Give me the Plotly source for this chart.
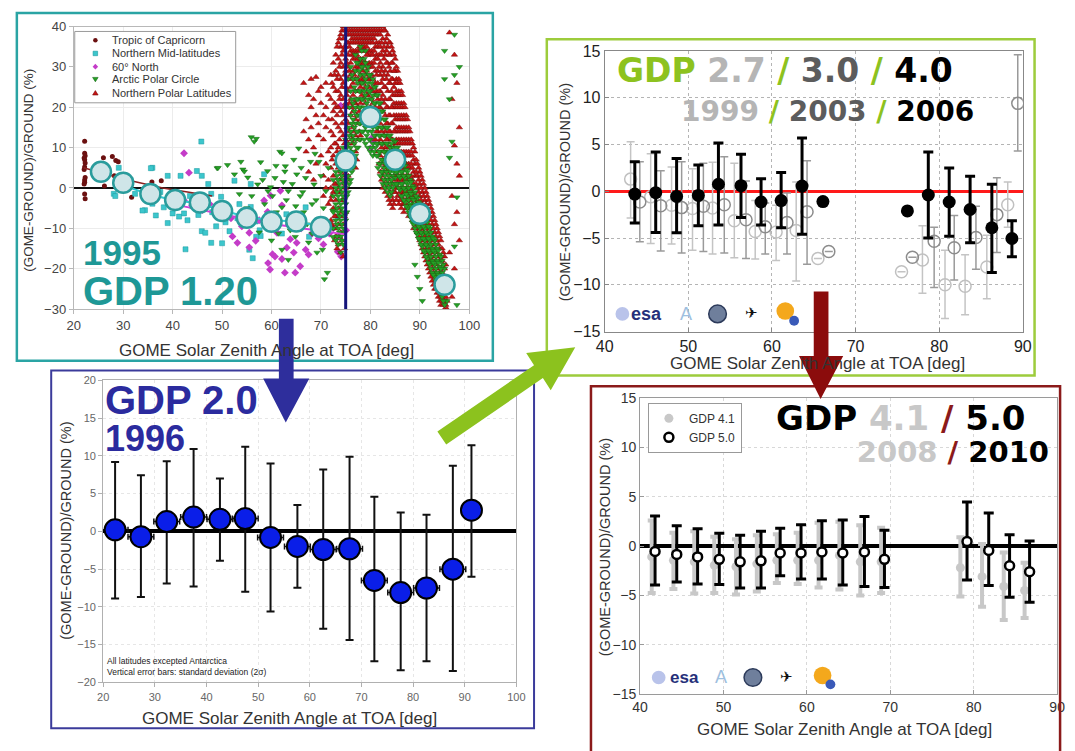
import plotly.graph_objects as go

W, H = 1075, 751


def px(x):
    return x / W


def py(y):
    return 1 - y / H


# ====================== Panel A : GDP 1.20 (1995) ======================
tl_mean_x = [25.5, 30, 35.5, 40.5, 45.5, 50, 55, 60, 65, 70, 75, 80, 85, 90, 95]
tl_mean_y = [4.0, 1.3, -1.5, -3.0, -3.6, -5.7, -7.4, -8.4, -8.3, -9.7, 6.8, 17.6, 7.0, -6.4, -24.0]

cap_pts = [(22.2, 11.6), (22.2, 8.6), (22.3, 8.0), (22.1, 7.4), (22.2, 7.0), (22.3, 6.2), (22.2, 5.2),
           (22.1, 4.6), (22.3, 2.6), (22.2, 2.0), (22.2, 1.4), (22.1, 1.0), (22.2, -1.5), (22.3, -2.7),
           (26.0, 7.5), (27.8, 7.8), (28.5, 6.8), (28.2, 3.0), (26.2, 0.5), (29.0, 6.5), (31.7, -2.3),
           (35.8, 1.5), (37.7, 1.8), (47.2, -3.5)]
cap_fit_x = [22, 30, 38, 48]
cap_fit_y = [5.0, 2.2, 0.0, -2.0]

mid_pts = [(29.1, 5.0), (28.1, -1.45), (32.4, -1.45), (35.9, 5.0), (35.9, -3.9), (34.4, -5.5), (39.0, 3.0),
           (39.0, -8.7), (40.7, -3.9), (41.3, -7.1), (42.3, -6.3), (41.6, 3.0), (39.3, -3.1), (40.0, -6.3),
           (42.6, -15.2), (44.9, 4.2), (45.9, 3.0), (45.2, -6.7), (47.2, 1.0), (47.8, -1.45), (45.9, -10.7),
           (46.6, -11.1), (47.8, -13.6), (48.8, -9.5), (49.8, -2.2), (51.1, -5.5), (51.5, -10.7), (52.5, 1.8),
           (53.1, -7.5), (54.4, -8.7), (55.8, 1.0), (55.8, -4.7), (56.8, -8.3), (57.8, -11.9), (58.5, 3.4),
           (59.8, -9.5), (45.8, 11.5), (26.7, 4.9), (28.4, -2.0), (33.9, -5.6), (36.6, -6.8), (35.6, 4.9),
           (50.7, -8.5), (50.0, -13.7), (55.5, -15.3), (56.2, -17.4), (56.9, -12.1), (57.6, -10.5),
           (61.0, -8.9), (62.1, -11.3), (66.9, -4.8), (67.6, -12.1), (69.3, -10.5), (73.4, -7.2),
           (30.5, 0.5), (31.5, 2.0), (43.5, -2.0), (44.0, -4.5), (48.0, -6.0), (53.5, -4.0), (60.5, -7.0),
           (63.0, -6.5), (64.5, -9.0), (70.5, -8.0), (37.5, -1.0), (38.2, -4.8), (43.0, -8.0), (49.0, -4.5)]
mid_fit_x = [28, 35, 40, 45, 50, 55, 60, 65, 70]
mid_fit_y = [1.5, -1.5, -3.0, -3.8, -5.5, -7.2, -8.0, -8.3, -9.5]

mag_pts = [(42.3, 8.6), (43.3, 3.8), (41.3, -1.5), (42.3, -3.1), (43.9, -4.3), (49.8, -6.3), (51.8, -7.5),
           (52.1, -12.0), (53.1, -13.6), (55.5, -11.1), (56.8, -13.1), (55.5, -14.7), (58.5, -3.1),
           (59.8, -1.9), (59.2, -5.9), (60.5, -8.7), (61.1, -11.1), (61.8, -0.7), (62.1, -4.3), (63.8, -12.7),
           (65.1, -13.6), (63.1, -14.8), (60.2, -16.4), (62.1, -17.6), (59.3, -18.6), (59.7, -20.2),
           (60.7, -17.0), (62.7, -21.0), (64.8, -21.0), (65.8, -19.4), (66.9, -15.3), (68.2, -11.3),
           (71.7, -11.3), (73.4, -12.1), (74.1, -17.0), (73.4, -15.8), (75.1, -10.5), (80.0, 9.8),
           (80.6, 11.4), (74.0, 20.4), (80.3, 12.4), (46.0, -5.5), (47.5, -4.0), (54.0, -9.5), (57.5, -8.0),
           (66.0, -10.0), (67.5, -16.5), (69.5, -12.5), (70.5, -14.0), (72.5, -10.0), (63.5, -9.0),
           (64.5, -16.0)]
mag_fit_x = [42, 50, 58, 66, 75]
mag_fit_y = [-4.5, -6.5, -8.5, -10.0, -11.5]

arc_sc_pts = [(49.0, 4.9), (49.2, 5.0), (51.1, 5.7), (52.5, 3.4), (53.8, 6.5), (54.2, 4.6), (54.5, 4.1),
              (55.2, 2.6), (55.9, 12.6), (56.5, 11.5), (56.9, 12.2), (57.2, 0.9), (57.8, 6.4), (58.6, -4.0),
              (59.2, 4.2), (59.3, -0.8), (59.8, 0.2), (60.7, 2.5), (61.4, -11.3), (61.7, 9.0), (62.1, 8.6),
              (62.1, -4.8), (62.1, -15.3), (62.7, 4.1), (62.8, 5.4), (63.4, -0.8), (63.4, -17.8), (64.5, 7.0),
              (64.8, -12.1), (65.1, 3.4), (65.5, 9.8), (66.9, 2.5), (67.9, 6.5), (68.2, -4.0), (68.2, -11.3),
              (68.6, 0.9), (69.6, 6.5), (70.3, -15.3), (70.7, -22.6), (71.3, -21.0), (71.0, -0.8),
              (72.4, -5.6), (72.4, -12.1), (60.2, -2.0), (61.0, -6.0), (63.0, -3.0), (64.0, -7.0),
              (65.8, -2.0), (66.5, -6.0), (67.2, -9.0), (69.0, -3.0), (69.8, -8.0), (70.5, -5.0),
              (71.6, -9.0), (66.0, 5.0), (64.2, 1.0), (62.4, 1.5), (60.9, 5.5), (58.2, 2.0), (56.0, -2.0),
              (55.0, -5.0), (53.5, -1.5), (61.5, -8.5), (63.8, -10.5), (67.5, -13.5), (69.2, -16.0),
              (58.9, -7.5), (57.5, -11.0), (60.0, -13.0), (70.0, 3.0), (71.5, 5.0), (68.8, 8.5),
              (66.3, -1.0), (64.9, -4.5)]

arc_cols = [
    (72.5, [2, -2, -6, -10]), (73.0, [4, 0, -4, -8, -13]), (73.5, [6, 2, -2, -6, -10, -14]),
    (74.0, [8, 4, 0, -4, -8, -12, -16]), (74.5, [10, 6, 2, -2, -6, -10, -14]), (75.0, [12, 8, 4, 0, -4, -8]),
    (75.5, [15, 11, 7, 3, -1, 27]), (76.0, [18, 14, 10, 6, 2, 30, 24]), (76.5, [21, 17, 13, 9, 5, 27]),
    (77.0, [24, 20, 16, 12, 8, 29, 33]), (77.5, [26, 22, 18, 14, 10, 31]), (78.0, [28, 24, 20, 16, 12, 32, 35]),
    (78.5, [30, 26, 22, 18, 14]), (79.0, [31, 27, 23, 19, 15, 11, 34]), (79.5, [30, 26, 22, 18, 14, 10]),
    (80.0, [28, 24, 20, 16, 12, 9]), (80.5, [27, 23, 19, 15, 11, 8]), (81.0, [25, 21, 17, 13, 10]),
    (81.5, [23, 19, 15, 11, 8, 5]), (82.0, [21, 17, 13, 9, 6, 3]), (82.5, [19, 15, 11, 7, 4, 1]),
    (83.0, [17, 13, 9, 6, 3, 0]), (83.5, [15, 11, 8, 5, 2, -1]), (84.0, [13, 10, 7, 4, 1, -2]),
    (84.5, [12, 9, 6, 3, 0]), (85.0, [11.5, 8.5, 5.5, 2.5]), (85.5, [10, 7, 4, 1]),
    (86.0, [8.5, 5.5, 2.5, -0.5]), (86.5, [7, 4, 1, -2]), (87.0, [5.5, 2.5, -0.5, -3.5]),
    (87.5, [4, 1, -2, -5]), (88.0, [2, -1, -4, -7]), (88.5, [0.5, -2.5, -5.5, -8.5]),
    (89.0, [-1, -4, -7, -10, -19]), (89.5, [-2.5, -5.5, -8.5, -11.5, -22]), (90.0, [-4, -7, -10, -13, -25]),
    (90.5, [-5.5, -8.5, -11.5, -14.5, -28]), (91.0, [-7, -10, -13, -16]), (91.5, [-8.5, -11.5, -14.5, -17.5]),
    (92.0, [-10, -13, -16, -19]), (92.5, [-12, -15, -18, -21]), (93.0, [-13, -16, -19, -22]),
    (93.5, [-15, -18, -21, -24]), (94.0, [-16.5, -19.5, -22.5, -25.5]), (94.5, [-18, -21, -24, -27]),
    (95.0, [-20, -23, -26, -29, 34, 27]), (95.5, [-25, -28]), (96.0, [22, 7.5]), (96.5, [11.5]),
    (97.0, [38, 28, -14.5]), (97.5, [-2.3, -29]), (98.0, [30]),
    # second pass, in between the first columns
    (73.25, [3, -1, -5, -9, -12]), (73.75, [5, 1, -3, -7, -11]), (74.25, [7, 3, -1, -5, -9, -13]),
    (74.75, [9, 5, 1, -3, -7, -11]), (75.25, [10, 6, 2, -2, -6]), (75.75, [13, 9, 5, 1, 20]),
    (76.25, [16, 12, 8, 4, 22, 28]), (76.75, [19, 15, 11, 7, 25]), (77.25, [22, 18, 14, 10, 27, 31]),
    (77.75, [24, 20, 16, 12, 29]), (78.25, [26, 22, 18, 14, 30, 34]), (78.75, [28, 24, 20, 16, 12, 32]),
    (79.25, [29, 25, 21, 17, 13]), (79.75, [28, 24, 20, 16, 12]), (80.25, [26, 22, 18, 14, 10]),
    (80.75, [25, 21, 17, 13, 9]), (81.25, [23, 19, 15, 11, 8]), (81.75, [21, 17, 13, 9, 6]),
    (82.25, [19, 15, 11, 7, 4]), (82.75, [17, 13, 9, 5, 2]), (83.25, [15, 11, 7, 4, 1]),
    (83.75, [13, 9, 6, 3, 0]), (84.25, [11, 8, 5, 2, -1]), (84.75, [10, 7, 4, 1]), (85.25, [10, 7, 4, 1]),
    (85.75, [9, 6, 3, 0]), (86.25, [7, 4, 1, -2]), (86.75, [6, 3, 0, -3]), (87.25, [4.5, 1.5, -1.5, -4.5]),
    (87.75, [3, 0, -3, -6]), (88.25, [1.5, -1.5, -4.5, -7.5]), (88.75, [0, -3, -6, -9]),
    (89.25, [-2, -5, -8, -11]), (89.75, [-3.5, -6.5, -9.5, -12.5]), (90.25, [-5, -8, -11, -14]),
    (90.75, [-6.5, -9.5, -12.5, -15.5]), (91.25, [-8, -11, -14, -17]), (91.75, [-9.5, -12.5, -15.5, -18.5]),
    (92.25, [-11, -14, -17, -20]), (92.75, [-12.5, -15.5, -18.5, -21.5]), (93.25, [-14, -17, -20, -23]),
    (93.75, [-15.5, -18.5, -21.5, -24.5]), (94.25, [-17, -20, -23, -26]), (94.75, [-19, -22, -25, -28]),
]

polar_cols = [
    (66.5, [26, 14]), (67.0, [17, 9]), (67.5, [23, 12, 4]), (68.0, [20, 15, 27]), (68.5, [22, 10, 2]),
    (69.0, [27.5, 18, 6]), (69.5, [24, 13, 16]), (70.0, [21, 8, 25]), (70.5, [18, 12, 3, -2]),
    (71.0, [26, 20, 15, 6, 0]), (71.5, [23, 17, 9, 2, -4]), (72.0, [28, 22, 14, 10, 5, 0, -3, -8]),
    (72.5, [31, 25, 19, 13, 8, 3, -1, -5, -10]), (73.0, [33, 29, 24, 20, 16, 11, 6, 1, -3, -7, -12]),
    (73.5, [36, 32, 28, 24, 20, 15, 10, 5, 0, -5, -9, -14]),
    (74.0, [38, 35, 31, 27, 23, 19, 14, 9, 4, -1, -6, -11, -16]),
    (74.5, [40, 37, 34, 30, 26, 22, 18, 13, 8, 3, -3, -9, -17]),
    (75.0, [40, 38, 35, 32, 29, 25, 21, 17, 12, 6, 0, -6]),
    (75.5, [40, 38, 36, 33, 30, 27, 24, 20, 16, 11, 7, 3]),
    (76.0, [40, 38, 36, 34, 31, 28, 25, 22, 18, 13, 9, 5]),
    (76.5, [40, 38, 36, 34, 32, 29, 26, 23, 19, 15, 11]),
    (77.0, [40, 38, 36, 34, 32, 30, 27, 24, 21, 17, 13, 9, 5]),
    (77.5, [40, 38, 36, 34, 32, 30, 27, 24, 20, 16, 12]),
    (78.0, [40, 38, 36, 34, 32, 30, 28, 25, 21, 17, 13]),
    (78.5, [40, 38, 36, 34, 32, 29, 26, 22, 18]), (79.0, [40, 38, 36, 34, 31, 28, 25, 21]),
    (79.5, [40, 38, 36, 33, 30, 27, 23]), (80.0, [40, 38, 36, 33, 30, 27, 24, 20]),
    (80.5, [40, 38, 36, 33, 30, 27, 24, 21]), (81.0, [40, 38, 35, 32, 29, 26, 23, 20, 16, 12]),
    (81.5, [40, 38, 35, 32, 29, 26, 22, 18, 14, 9]), (82.0, [40, 38, 35, 31, 28, 24, 20, 16, 12, 8, 4]),
    (82.5, [40, 37, 34, 30, 27, 23, 19, 15, 11, 7, 3, 0]),
    (83.0, [39, 36, 33, 29, 25, 22, 18, 14, 10, 6, 2, -1]),
    (83.5, [38, 35, 31, 28, 24, 20, 16, 12, 8, 4, 1, -2]),
    (84.0, [36, 33, 29, 26, 22, 18, 14, 10, 7, 3, -1, -4]),
    (84.5, [34, 31, 27, 23, 20, 16, 12, 8, 5, 1, -3, -5]),
    (85.0, [32, 29, 26, 23, 20, 17, 14, 11, 8, 5, 2, -1]),
    (85.5, [29, 26, 23, 20, 17, 14, 11, 8, 5, 2, -2]),
    (86.0, [26, 23, 20, 17, 14, 11, 8, 5, 2, -1, -3]),
    (86.5, [23, 20, 17, 14, 11, 8, 5, 2, -1, -4]), (87.0, [20, 17, 14, 11, 8, 5, 2, -1, -4]),
    (87.5, [17, 14, 11, 8, 5, 2, -1, -3, -5]), (88.0, [14, 11, 8, 5, 2, -1, -3, -6]),
    (88.5, [11, 8, 5, 2, -1, -4, -6, -8]), (89.0, [9, 6, 3, 0, -3, -6, -9]),
    (89.5, [6, 3, 0, -3, -6, -8, -11]), (90.0, [4, 1, -2, -5, -8, -10, -13]),
    (90.5, [2, -1, -4, -7, -10, -12, -15]), (91.0, [0, -3, -6, -9, -12, -14, -17]),
    (91.5, [-2, -5, -8, -11, -14, -16, -19]), (92.0, [-4, -7, -10, -13, -16, -18, -21]),
    (92.5, [-6, -9, -12, -15, -18, -20, -23]), (93.0, [-8, -11, -14, -17, -20, -22, -25]),
    (93.5, [-10, -13, -16, -19, -22, -24, -26]), (94.0, [-12, -15, -18, -21, -24, -26, -28]),
    (94.5, [-15, -18, -21, -24, -26, -28]), (95.0, [-17, -20, -23, -26, -28, -30]),
    (95.5, [-22, -25, -28, -30]), (96.0, [38.5, -16]), (96.5, [22, -2, -27]), (97.0, [33, 10.5, -9, -20]),
    (97.5, [26, 6, -6]), (98.0, [15, 3, -13]),
    # second pass, in between the first columns
    (72.25, [26, 17, 7, -2, -9]), (72.75, [28, 21, 11, 1, -7, -13]), (73.25, [35, 27, 18, 9, -1, -10, -15]),
    (73.75, [37, 30, 22, 12, 2, -7, -12]), (74.25, [39, 33, 25, 16, 6, -3, -13]),
    (74.75, [39, 35, 28, 20, 11, 1, -7, -15]), (75.25, [39, 36, 31, 23, 15, 9, 2]),
    (75.75, [39, 35, 29, 21, 14, 5]), (76.25, [39, 37, 33, 27, 20, 12, 7]), (76.75, [39, 37, 33, 28, 21, 14]),
    (77.25, [39, 37, 33, 29, 22, 18, 7]), (77.75, [39, 37, 35, 31, 26, 19, 14]),
    (78.25, [39, 37, 35, 31, 27, 23, 16]), (78.75, [39, 37, 35, 31, 27, 24]), (79.25, [39, 37, 35, 33, 29, 23]),
    (79.75, [39, 37, 34, 31, 25]), (80.25, [39, 37, 34, 31, 28, 22]), (80.75, [39, 37, 34, 31, 25, 18]),
    (81.25, [39, 36, 33, 28, 24, 18, 14]), (81.75, [39, 36, 33, 30, 24, 20, 11, 6]),
    (82.25, [39, 36, 33, 29, 26, 22, 14, 10, 2]), (82.75, [39, 35, 32, 28, 25, 21, 13, 9, 5, 1]),
    (83.25, [37, 34, 31, 27, 20, 16, 12, 8, 4, 0]), (83.75, [36, 33, 30, 26, 22, 18, 14, 10, 6, 2, -3]),
    (84.25, [35, 31, 27, 24, 20, 16, 12, 9, 5, 1, -2]), (84.75, [33, 29, 25, 21, 18, 14, 10, 6, 3, -1, -4]),
    (85.25, [30, 27, 24, 21, 18, 15, 12, 9, 6, 3, 0, -3]), (85.75, [27, 24, 21, 18, 15, 12, 9, 6, 3, 0, -4]),
    (86.25, [24, 21, 18, 15, 12, 9, 6, 3, 0, -2, -5]), (86.75, [21, 18, 15, 12, 9, 6, 3, 0, -3, -6]),
    (87.25, [18, 15, 12, 9, 6, 3, 0, -3, -5]), (87.75, [15, 12, 9, 6, 3, 0, -2, -4, -7]),
    (88.25, [12, 9, 6, 3, 0, -2, -5, -7]), (88.75, [10, 7, 4, 1, -2, -5, -7, -10]),
    (89.25, [7, 4, 1, -2, -4, -7, -10]), (89.75, [5, 2, -1, -4, -7, -9, -12]),
    (90.25, [3, 0, -3, -6, -9, -11, -14]), (90.75, [1, -2, -5, -8, -11, -13, -16]),
    (91.25, [-1, -4, -7, -10, -13, -15, -18]), (91.75, [-3, -6, -9, -12, -15, -17, -20]),
    (92.25, [-5, -8, -11, -14, -17, -19, -22]), (92.75, [-7, -10, -13, -16, -19, -21, -24]),
    (93.25, [-9, -12, -15, -18, -21, -23, -25]), (93.75, [-11, -14, -17, -20, -23, -25, -27]),
    (94.25, [-13, -17, -20, -22, -25, -27, -29]), (94.75, [-16, -19, -22, -25, -27, -29]),
    (95.25, [-19, -22, -25, -27, -29]),
]
tl_vline_x = 75
tl_xrange = [20, 100]
tl_yrange = [-30, 40]
tl_legend_names = ["Tropic of Capricorn", "Northern Mid-latitudes", "60° North",
                   "Arctic Polar Circle", "Northern Polar Latitudes"]

# ====================== Panel B : GDP 2.0 (1996) ======================
bl_x = [22.3, 27.3, 32.3, 37.5, 42.6, 47.5, 52.4, 57.6, 62.6, 67.7, 72.5, 77.6, 82.6, 87.7, 91.3]
bl_y = [0.2, -0.7, 1.3, 1.9, 1.6, 1.7, -0.8, -2.0, -2.4, -2.3, -6.5, -8.1, -7.5, -5.0, 2.8]
bl_hi = [9.2, 7.45, 9.3, 10.9, 7.0, 11.2, 9.0, 3.5, 8.2, 9.9, 4.6, 2.5, 2.2, 8.7, 11.4]
bl_lo = [-8.9, -8.7, -6.9, -7.3, -3.9, -8.0, -10.6, -7.45, -12.9, -14.4, -17.2, -18.4, -17.2, -18.5, -6.0]
bl_xerr = [2.5, 2.5, 2.5, 2.5, 2.5, 2.5, 2.5, 2.5, 2.5, 2.5, 2.5, 2.5, 2.5, 2.5, 0]

# ====================== Panel C : GDP 2.7 / 3.0 / 4.0 ======================
tr27_x = [43.1, 45.5, 48.0, 50.5, 52.9, 55.5, 58.0, 60.5, 62.9, 65.5, 75.5, 78.0, 80.7, 83.1, 85.7, 88.2]
tr27_y = [1.3, -0.6, -1.5, -1.85, -1.8, -3.15, -4.3, -4.35, -4.2, -7.2, -8.6, -7.35, -10.0, -10.15, -8.1, -1.45]
tr27_hi = [5.3, 4.0, 2.6, 2.4, 3.1, 3.0, -1.0, -1.5, 1.0, None, None, -3.7, -6.3, -6.8, -4.7, 1.0]
tr27_lo = [-2.85, -5.6, -5.65, -6.3, -6.7, -7.1, -7.25, -7.4, -9.6, None, None, -10.9, -13.6, -13.2, -11.5, -3.85]

tr30_x = [44.2, 46.7, 49.2, 51.8, 54.3, 56.9, 59.2, 61.8, 64.2, 66.8, 76.8, 79.4, 81.8, 84.4, 86.9, 89.4]
tr30_y = [-1.15, -1.55, -1.75, -1.6, -1.45, -3.05, -3.8, -3.35, -2.2, -6.45, -7.05, -5.35, -6.05, -4.95, -2.5, 9.4]
tr30_hi = [3.15, 2.2, 3.15, 3.0, 3.7, 1.1, -1.25, -0.2, 3.25, None, None, -3.85, -2.6, -1.6, 1.45, 14.6]
tr30_lo = [-5.4, -6.4, -6.6, -6.45, -6.6, -7.2, -6.7, -6.7, -7.8, None, None, -10.3, -9.5, -8.35, -6.55, 4.3]

tr40_x = [43.6, 46.1, 48.6, 51.2, 53.6, 56.3, 58.7, 61.1, 63.6, 66.1, 76.2, 78.7, 81.2, 83.7, 86.3, 88.7]
tr40_y = [-0.3, -0.15, -0.55, -0.45, 0.75, 0.6, -1.15, -1.0, 0.55, -1.1, -2.1, -0.4, -1.15, -1.95, -3.9, -5.05]
tr40_hi = [3.15, 4.2, 3.5, 2.8, 5.15, 3.95, 1.35, 2.0, 5.7, None, None, 4.2, 2.5, 1.6, 0.75, -3.15]
tr40_lo = [-3.4, -4.4, -4.45, -3.7, -3.6, -2.8, -3.6, -3.9, -4.6, None, None, -5.0, -4.8, -5.5, -8.7, -7.0]

# ====================== Panel D : GDP 4.1 / 5.0 ======================
br41_x = [41.4, 44.0, 46.5, 48.9, 51.5, 54.0, 56.4, 58.9, 61.4, 63.9, 66.4, 68.9, 78.4, 81.0, 83.6, 86.1]
br41_y = [-1.1, -1.45, -1.6, -1.95, -2.1, -1.8, -1.45, -1.45, -1.45, -0.95, -1.6, -1.6, -2.2, -3.1, -4.1, -4.5]
br41_hi = [2.6, 1.35, 1.5, 0.95, 0.7, 1.1, 1.2, 1.35, 2.35, 2.45, 2.1, 1.85, 0.9, 0.2, -0.65, -1.7]
br41_lo = [-4.75, -4.35, -4.8, -4.75, -4.9, -4.6, -3.75, -3.85, -4.2, -4.4, -5.0, -4.75, -5.1, -6.15, -7.5, -7.3]

br50_x = [41.8, 44.4, 46.9, 49.5, 52.0, 54.5, 56.8, 59.3, 61.8, 64.3, 66.9, 69.3, 79.2, 81.8, 84.3, 86.7]
br50_y = [-0.55, -0.85, -1.1, -1.35, -1.6, -1.5, -0.7, -0.7, -0.6, -0.7, -0.6, -1.35, 0.45, -0.45, -2.0, -2.6]
br50_hi = [3.05, 2.05, 1.75, 1.3, 1.1, 1.5, 1.8, 2.15, 2.55, 2.65, 3.0, 1.6, 4.45, 3.35, 1.15, 0.5]
br50_lo = [-3.95, -3.65, -3.85, -3.9, -4.25, -4.25, -3.0, -3.35, -3.35, -3.95, -4.1, -4.2, -3.45, -4.0, -5.2, -5.7]


# ---------------------------------------------------------------
def unzip(pts):
    return [p[0] for p in pts], [p[1] for p in pts]


def flat(cols):
    xs, ys = [], []
    for x, col in cols:
        for y in col:
            xs.append(x)
            ys.append(y)
    return xs, ys


def err(y, hi, lo):
    plus = [None if h is None else h - v for v, h in zip(y, hi)]
    minus = [None if l is None else v - l for v, l in zip(y, lo)]
    return plus, minus


ARIAL = "Arial, Liberation Sans, sans-serif"
DEJAVU = "DejaVu Sans, Verdana, sans-serif"
C_CAP, C_MID, C_MAG, C_ARC, C_POL = "#6b1010", "#3cc6cc", "#c43cc8", "#25a025", "#c41414"

fig = go.Figure()

# ---- Panel A traces
cx, cy = unzip(cap_pts)
mx, my = unzip(mid_pts)
gx, gy = unzip(mag_pts)
ax_, ay_ = unzip(arc_sc_pts)
acx, acy = flat(arc_cols)
pcx, pcy = flat(polar_cols)

fig.add_trace(go.Scatter(x=cx, y=cy, mode="markers", name=tl_legend_names[0], showlegend=False,
                         marker=dict(symbol="circle", size=5, color=C_CAP), xaxis="x", yaxis="y"))
fig.add_trace(go.Scatter(x=mx, y=my, mode="markers", name=tl_legend_names[1], showlegend=False,
                         marker=dict(symbol="square", size=5, color=C_MID,
                                     line=dict(width=0.5, color="#1b9aa0")), xaxis="x", yaxis="y"))
fig.add_trace(go.Scatter(x=gx, y=gy, mode="markers", name=tl_legend_names[2], showlegend=False,
                         marker=dict(symbol="diamond", size=6, color=C_MAG), xaxis="x", yaxis="y"))
fig.add_trace(go.Scatter(x=pcx, y=pcy, mode="markers", name=tl_legend_names[4], showlegend=False,
                         marker=dict(symbol="triangle-up", size=5.5, color=C_POL,
                                     line=dict(width=0.5, color="#7a0808")), xaxis="x", yaxis="y"))
fig.add_trace(go.Scatter(x=ax_ + acx, y=ay_ + acy, mode="markers", name=tl_legend_names[3], showlegend=False,
                         marker=dict(symbol="triangle-down", size=5.5, color=C_ARC,
                                     line=dict(width=0.5, color="#126812")), xaxis="x", yaxis="y"))
fig.add_trace(go.Scatter(x=cap_fit_x, y=cap_fit_y, mode="lines", showlegend=False,
                         line=dict(color="#8a2020", width=1.5), xaxis="x", yaxis="y"))
fig.add_trace(go.Scatter(x=mid_fit_x, y=mid_fit_y, mode="lines", showlegend=False,
                         line=dict(color="#30c8d0", width=2), xaxis="x", yaxis="y"))
fig.add_trace(go.Scatter(x=mag_fit_x, y=mag_fit_y, mode="lines", showlegend=False,
                         line=dict(color="#d040d8", width=2), xaxis="x", yaxis="y"))
fig.add_trace(go.Scatter(x=[tl_vline_x, tl_vline_x], y=tl_yrange, mode="lines", showlegend=False,
                         line=dict(color="#14147a", width=3), xaxis="x", yaxis="y"))
fig.add_trace(go.Scatter(x=tl_mean_x, y=tl_mean_y, mode="markers", showlegend=False,
                         marker=dict(size=20, color="#cfe5e8", line=dict(color="#2a9c9c", width=2.5)),
                         xaxis="x", yaxis="y"))

# ---- Panel B traces
bp, bm = err(bl_y, bl_hi, bl_lo)
fig.add_trace(go.Scatter(x=bl_x, y=bl_y, mode="markers", showlegend=False,
                         error_y=dict(type="data", symmetric=False, array=bp, arrayminus=bm,
                                      color="#111", thickness=2, width=4),
                         error_x=dict(type="data", array=bl_xerr, color="#111", thickness=1.5, width=3),
                         marker=dict(size=21, color="#0a1ee8", line=dict(color="#000", width=2)),
                         xaxis="x2", yaxis="y2"))

# ---- Panel C traces
p, m = err(tr27_y, tr27_hi, tr27_lo)
fig.add_trace(go.Scatter(x=tr27_x, y=tr27_y, mode="markers", showlegend=False,
                         error_y=dict(type="data", symmetric=False, array=p, arrayminus=m,
                                      color="#c4c4c4", thickness=1.5, width=4),
                         marker=dict(symbol="circle-open", size=12, color="#c0c0c0", line=dict(width=1.5)),
                         xaxis="x3", yaxis="y3"))
p, m = err(tr30_y, tr30_hi, tr30_lo)
fig.add_trace(go.Scatter(x=tr30_x, y=tr30_y, mode="markers", showlegend=False,
                         error_y=dict(type="data", symmetric=False, array=p, arrayminus=m,
                                      color="#9a9a9a", thickness=1.5, width=4),
                         marker=dict(symbol="circle-open", size=12, color="#8c8c8c", line=dict(width=1.5)),
                         xaxis="x3", yaxis="y3"))
p, m = err(tr40_y, tr40_hi, tr40_lo)
fig.add_trace(go.Scatter(x=tr40_x, y=tr40_y, mode="markers", showlegend=False,
                         error_y=dict(type="data", symmetric=False, array=p, arrayminus=m,
                                      color="#000", thickness=3, width=5),
                         marker=dict(symbol="circle", size=13, color="#000"),
                         xaxis="x3", yaxis="y3"))

# ---- Panel D traces
p, m = err(br41_y, br41_hi, br41_lo)
fig.add_trace(go.Scatter(x=br41_x, y=br41_y, mode="markers", name="GDP 4.1", legend="legend2",
                         error_y=dict(type="data", symmetric=False, array=p, arrayminus=m,
                                      color="#c8c8c8", thickness=4, width=4),
                         marker=dict(symbol="circle", size=9, color="#c8c8c8"),
                         xaxis="x4", yaxis="y4"))
p, m = err(br50_y, br50_hi, br50_lo)
fig.add_trace(go.Scatter(x=br50_x, y=br50_y, mode="markers", name="GDP 5.0", legend="legend2",
                         error_y=dict(type="data", symmetric=False, array=p, arrayminus=m,
                                      color="#000", thickness=3, width=5),
                         marker=dict(symbol="circle", size=9, color="#fff", line=dict(color="#000", width=2.5)),
                         xaxis="x4", yaxis="y4"))


# ---------------------------------------------------------------
def axis(dom, rng, dtick, anchor, tick_size, tick_color, line_color, grid_color, grid_dash="solid",
         zero=False, zcolor="#000", zwidth=1, ticks="outside"):
    return dict(domain=dom, range=rng, dtick=dtick, anchor=anchor, showline=True, mirror=True,
                linecolor=line_color, linewidth=1, ticks=ticks, ticklen=4, tickcolor=line_color,
                showgrid=True, gridcolor=grid_color, griddash=grid_dash, zeroline=zero,
                zerolinecolor=zcolor, zerolinewidth=zwidth,
                tickfont=dict(family=ARIAL, size=tick_size, color=tick_color), fixedrange=True)


layout_axes = dict(
    xaxis=axis([px(66), px(469)], tl_xrange, 10, "y", 13, "#444", "#b8b8b8", "#ececec"),
    yaxis=axis([py(308), py(19)], tl_yrange, 10, "x", 13, "#444", "#b8b8b8", "#ececec",
               zero=True, zcolor="#111", zwidth=1.6),
    xaxis2=axis([px(96), px(517)], [20, 100], 10, "y2", 11, "#666", "#b0b0b0", "#e6e6e6", "dot"),
    yaxis2=axis([py(690), py(381)], [-20, 20], 5, "x2", 11, "#666", "#b0b0b0", "#e6e6e6", "dot",
                zero=True, zcolor="#000", zwidth=3.5),
    xaxis3=axis([px(607), px(1033)], [40, 90], 10, "y3", 16, "#222", "#888", "#b4b4b4", "dot",
                ticks="inside"),
    yaxis3=axis([py(331), py(44)], [-15, 15], 5, "x3", 16, "#222", "#888", "#b4b4b4", "dot",
                zero=True, zcolor="#ff1a1a", zwidth=3, ticks="inside"),
    xaxis4=axis([px(643), px(1068)], [40, 90], 10, "y4", 14, "#333", "#9a9a9a", "#d8d8d8", "dot",
                ticks="inside"),
    yaxis4=axis([py(702), py(399)], [-15, 15], 5, "x4", 14, "#333", "#9a9a9a", "#d8d8d8", "dot",
                zero=True, zcolor="#000", zwidth=3.5, ticks="inside"),
)


# ---------------------------------------------------------------
def ann(text, x, y, size, color="#333", family=ARIAL, xanchor="center", yanchor="middle", angle=0,
        align="left"):
    return dict(text=text, x=px(x), y=py(y), xref="paper", yref="paper", showarrow=False,
                xanchor=xanchor, yanchor=yanchor, textangle=angle, align=align,
                font=dict(family=family, size=size, color=color))


XT = "GOME Solar Zenith Angle at TOA [deg]"
YT = "(GOME-GROUND)/GROUND (%)"
G = "#8dc21f"
NB = "\u00a0" * 8
annotations = [
    ann(XT, 262, 350, 17), ann(XT, 286, 727, 17), ann(XT, 824, 364, 17), ann(XT, 851, 738, 17),
    ann(YT, 20, 166, 13.5, angle=-90), ann(YT, 58, 535, 14.5, angle=-90),
    ann(YT, 566, 188, 14.5, angle=-90), ann(YT, 607, 552, 14.5, angle=-90),
    ann("<span style='font-size:35px'><b>1995</b></span><br>"
        "<span style='font-size:40px'><b>GDP 1.20</b></span>",
        73, 228, 30.5, "#1e9896", xanchor="left", yanchor="top"),
    ann("<span style='font-size:40px'><b>GDP 2.0</b></span><br>"
        "<span style='font-size:36px'><b>1996</b></span>",
        96, 377, 28.5, "#2b2b9e", xanchor="left", yanchor="top"),
    ann("All latitudes excepted Antarctica", 98, 668, 8.5, "#222", xanchor="left"),
    ann("Vertical error bars: standard deviation (2σ)", 98, 679, 8.5, "#222", xanchor="left"),
    ann(f"<b><span style='color:{G}'>GDP</span> <span style='color:#b5b5b5'>2.7</span> "
        f"<span style='color:{G}'>/</span> <span style='color:#5c5c5c'>3.0</span> "
        f"<span style='color:{G}'>/</span> 4.0</b>", 617, 64, 33, "#000", DEJAVU, xanchor="left"),
    ann(f"<b><span style='color:#b5b5b5'>1999</span> <span style='color:{G}'>/</span> "
        f"<span style='color:#5c5c5c'>2003</span> <span style='color:{G}'>/</span> 2006</b>",
        683, 106, 28, "#000", DEJAVU, xanchor="left"),
    ann("<span style='font-size:34px'><b>GDP <span style='color:#c8c8c8'>4.1</span> "
        "<span style='color:#8b1a1a'>/</span> 5.0</b></span><br>"
        f"<span style='font-size:29px'><b>{NB}<span style='color:#c8c8c8'>2008</span> "
        "<span style='color:#8b1a1a'>/</span> 2010</b></span>",
        780, 397, 24.6, "#000", DEJAVU, xanchor="left", yanchor="top"),
    # legend texts of panel A
    *[ann(n, 103, yy, 11, "#333", xanchor="left") for n, yy in zip(tl_legend_names, [33, 46.5, 60, 73, 87])],
    # logos (text parts)
    ann("<b>esa</b>", 632, 313, 18, "#26307a", xanchor="left"),
    ann("A", 690, 313, 18, "#9ec0e0"),
    ann("✈", 757, 312, 15, "#111", DEJAVU),
    ann("<b>esa</b>", 671, 685, 17, "#26307a", xanchor="left"),
    ann("A", 726, 685, 18, "#9ec0e0"),
    ann("✈", 792, 684, 15, "#111", DEJAVU),
]


# ---------------------------------------------------------------
def rect(x0, y0, x1, y1, color, width, fill="rgba(0,0,0,0)"):
    return dict(type="rect", xref="paper", yref="paper", x0=px(x0), x1=px(x1), y0=py(y1), y1=py(y0),
                line=dict(color=color, width=width), fillcolor=fill, layer="above")


def poly(points, color, lc=None):
    d = "M " + " L ".join(f"{px(x):.5f},{py(y):.5f}" for x, y in points) + " Z"
    return dict(type="path", xref="paper", yref="paper", path=d, fillcolor=color,
                line=dict(width=0.6 if lc else 0, color=lc or color), layer="above")


def circ(cx_, cy_, r, fill, line=None):
    return dict(type="circle", xref="paper", yref="paper", x0=px(cx_ - r), x1=px(cx_ + r),
                y0=py(cy_ + r), y1=py(cy_ - r), fillcolor=fill,
                line=dict(width=1.5 if line else 0, color=line or fill), layer="above")


LX = 88
shapes = [
    rect(8, 5, 493, 361, "#2aa4a4", 2.5),
    rect(43, 371, 535, 737, "#3b3b9b", 2),
    rect(548, 32, 1045, 376, "#9dcc3c", 2.5),
    rect(593, 387, 1071, 770, "#8b1a1a", 2.5),
    # legend of panel A
    rect(67, 24, 231, 97, "#9a9a9a", 1, "white"),
    circ(LX, 33, 2.3, C_CAP),
    poly([(LX - 2.3, 44.2), (LX + 2.3, 44.2), (LX + 2.3, 48.8), (LX - 2.3, 48.8)], C_MID, "#1b9aa0"),
    poly([(LX, 57), (LX + 2.8, 60), (LX, 63), (LX - 2.8, 60)], C_MAG),
    poly([(LX - 2.8, 71), (LX + 2.8, 71), (LX, 75.5)], C_ARC, "#126812"),
    poly([(LX - 2.8, 89), (LX + 2.8, 89), (LX, 84.5)], C_POL, "#7a0808"),
    # arrows
    poly([(275, 318), (290, 318), (290, 379), (306, 379), (282, 424), (259, 379), (275, 379)], "#2e2e9c"),
    poly([(820, 290), (835, 290), (835, 356), (850, 356), (827, 400), (805, 356), (820, 356)], "#8b0c0c"),
    poly([(436.5, 433.4), (535, 365.4), (527, 353), (577, 347), (552, 391), (544, 378.6), (445.5, 446.6)],
         "#8cc21e"),
    # logos (graphic parts)
    circ(625, 313, 7, "#b9c3ea"), circ(722, 313, 9, "#6f7f9c", "#2c3a5a"),
    circ(791, 310, 9, "#f4a81c"), circ(800, 320, 5, "#3a5ab8"),
    circ(662, 685, 7, "#b9c3ea"), circ(758, 685, 9, "#6f7f9c", "#2c3a5a"),
    circ(829, 683, 9, "#f4a81c"), circ(837, 692, 5, "#3a5ab8"),
]

fig.update_layout(
    width=W, height=H, autosize=False,
    margin=dict(l=0, r=0, t=0, b=0),
    paper_bgcolor="white", plot_bgcolor="white",
    font=dict(family=ARIAL),
    showlegend=True,
    legend2=dict(x=px(651), y=py(404), xanchor="left", yanchor="top", bgcolor="white",
                 bordercolor="#999", borderwidth=1, itemsizing="trace",
                 font=dict(family=ARIAL, size=12, color="#333")),
    annotations=annotations,
    shapes=shapes,
    **layout_axes,
)

fig.write_html("out.html", config={"displayModeBar": False},
               post_script="document.body.style.margin='0px';document.body.style.padding='0px';"
                           "document.documentElement.style.overflow='hidden';")
